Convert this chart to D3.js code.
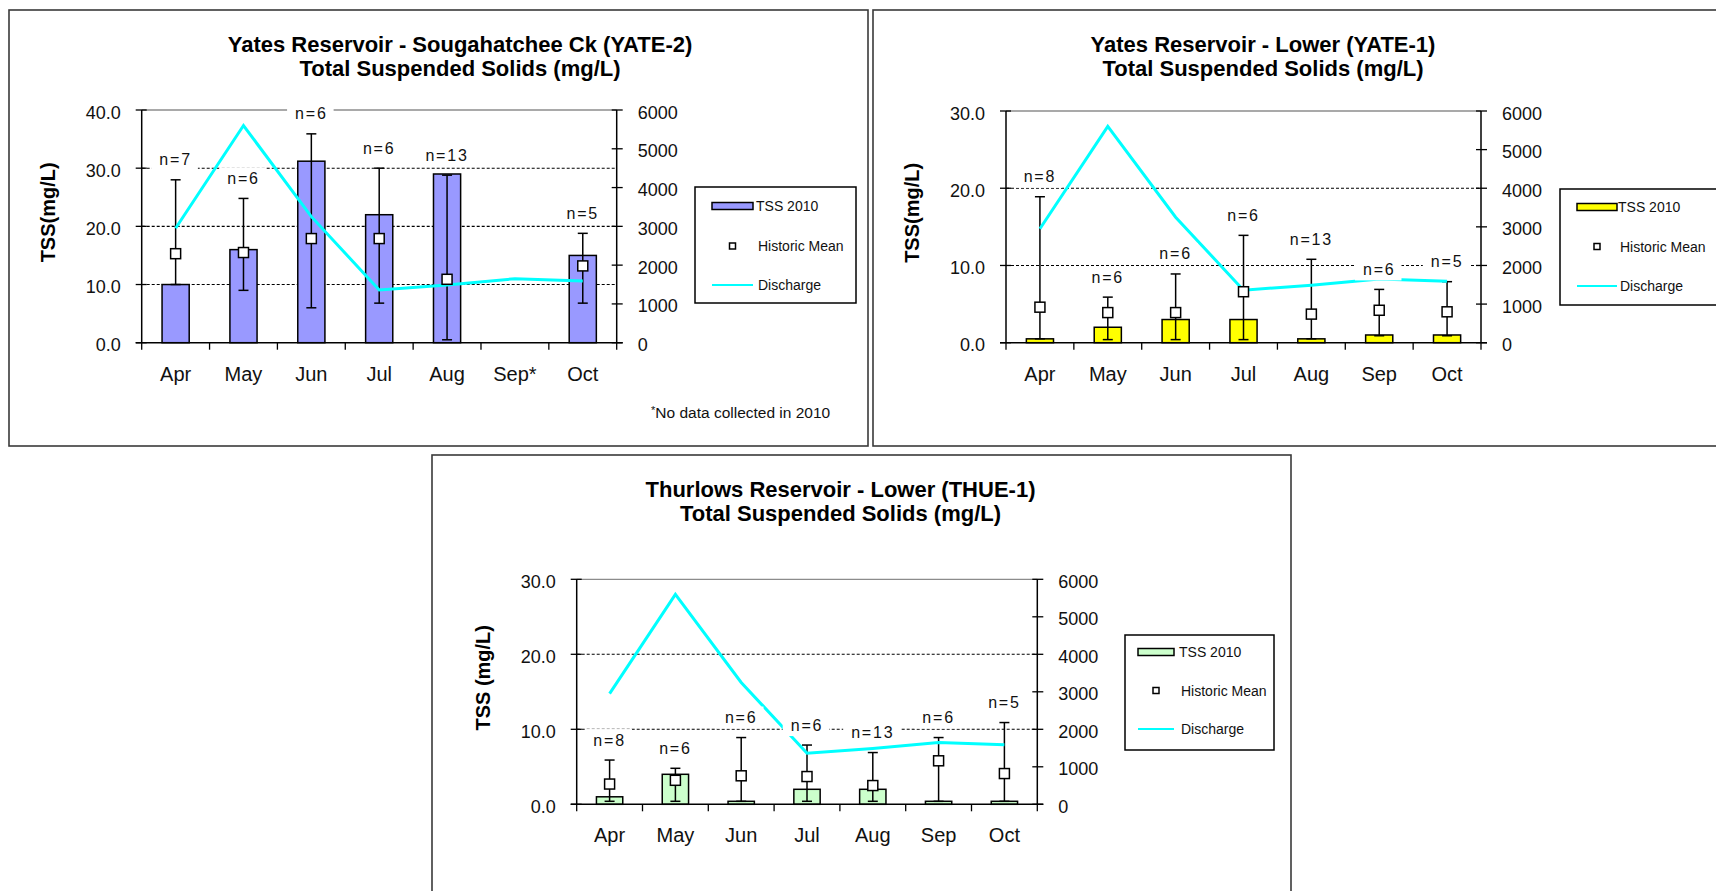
<!DOCTYPE html>
<html>
<head>
<meta charset="utf-8">
<script src="https://cdn.jsdelivr.net/npm/d3@7"></script>
<style>
  html, body { margin: 0; padding: 0; background: #ffffff; }
  svg { display: block; font-family: "Liberation Sans", Arial, sans-serif; }
</style>
</head>
<body>
<svg id="chart" width="1716" height="891"></svg>
<script>
// ---------- DATA ----------
const monthsYate2 = ["Apr", "May", "Jun", "Jul", "Aug", "Sep*", "Oct"];
const months = ["Apr", "May", "Jun", "Jul", "Aug", "Sep", "Oct"];

const discharge = [2950, 5600, 3250, 1360, 1490, 1650, 1590];
const dischargeTicks = [0, 1000, 2000, 3000, 4000, 5000, 6000];

// Yates Reservoir - Sougahatchee Ck (YATE-2)
const yate2Tss = [10.0, 16.0, 31.2, 22.0, 29.0, null, 15.0];
const yate2Mean = [15.3, 15.5, 17.9, 17.9, 10.9, null, 13.2];
const yate2Low = [10.0, 9.0, 6.0, 6.8, 0.5, null, 6.8];
const yate2High = [28.0, 24.8, 35.9, 30.0, 28.8, null, 18.8];
const yate2N = [7, 6, 6, 6, 13, null, 5];
const yate2Ticks = [0, 10, 20, 30, 40];

// Yates Reservoir - Lower (YATE-1)
const yate1Tss = [0.5, 2.0, 3.0, 3.0, 0.5, 1.0, 1.0];
const yate1Mean = [4.6, 3.9, 3.9, 6.6, 3.7, 4.2, 4.0];
const yate1Low = [0.5, 0.4, 0.4, 0.4, 0.5, 0.9, 0.9];
const yate1High = [18.9, 5.9, 8.9, 13.9, 10.8, 6.9, 7.9];
const yate1N = [8, 6, 6, 6, 13, 6, 5];
const yate1Ticks = [0, 10, 20, 30];

// Thurlows Reservoir - Lower (THUE-1)
const thue1Tss = [1.0, 4.0, 0.4, 2.0, 2.0, 0.4, 0.4];
const thue1Mean = [2.7, 3.2, 3.8, 3.7, 2.5, 5.8, 4.1];
const thue1Low = [0.4, 0.4, 0.4, 0.4, 0.4, 0.4, 0.4];
const thue1High = [5.9, 4.8, 8.9, 7.9, 6.9, 8.9, 10.9];
const thue1N = [8, 6, 6, 6, 13, 6, 5];
const thue1Ticks = [0, 10, 20, 30];

const legendLabels = ["TSS 2010", "Historic Mean", "Discharge"];

// ---------- DRAW ----------
const svg = d3.select("#chart");

function drawChart(cfg) {
  const g = svg.append("g");
  const P = cfg.plot;

  // outer frame
  g.append("rect")
    .attr("x", cfg.frame[0]).attr("y", cfg.frame[1])
    .attr("width", cfg.frame[2] - cfg.frame[0]).attr("height", cfg.frame[3] - cfg.frame[1])
    .attr("fill", "#fff").attr("stroke", "#3a3a3a").attr("stroke-width", 1.6);

  const x = d3.scaleBand().domain(cfg.cats).range([P.l, P.r]).padding(0);
  const y = d3.scaleLinear().domain([0, d3.max(cfg.yTicks)]).range([P.b, P.t]);
  const y2 = d3.scaleLinear().domain([0, d3.max(dischargeTicks)]).range([P.b, P.t]);
  const bw = x.bandwidth();
  const cx = c => x(c) + bw / 2;

  // gridlines (dashed) for interior ticks
  g.selectAll(".grid").data(cfg.yTicks.filter(t => t > 0 && t < d3.max(cfg.yTicks)))
    .enter().append("line")
    .attr("x1", P.l).attr("x2", P.r)
    .attr("y1", d => y(d)).attr("y2", d => y(d))
    .attr("stroke", "#000").attr("stroke-width", 1.1).attr("stroke-dasharray", "3,2");

  // top border of plot area
  g.append("line").attr("x1", P.l).attr("x2", P.r)
    .attr("y1", y(d3.max(cfg.yTicks))).attr("y2", y(d3.max(cfg.yTicks)))
    .attr("stroke", "#8c8c8c").attr("stroke-width", 1.3);

  const rows = cfg.cats.map((c, i) => ({
    c, tss: cfg.tss[i], mean: cfg.mean[i], low: cfg.low[i], high: cfg.high[i], n: cfg.n[i], q: discharge[i]
  }));

  // bars
  g.selectAll(".bar").data(rows.filter(d => d.tss != null)).enter().append("rect")
    .attr("x", d => cx(d.c) - bw * 0.2).attr("width", bw * 0.4)
    .attr("y", d => y(d.tss)).attr("height", d => y(0) - y(d.tss))
    .attr("fill", cfg.fill).attr("stroke", "#000").attr("stroke-width", 1.5);

  // error bars
  const eb = g.selectAll(".eb").data(rows.filter(d => d.high != null)).enter().append("g");
  eb.append("line").attr("x1", d => cx(d.c)).attr("x2", d => cx(d.c))
    .attr("y1", d => y(d.low)).attr("y2", d => y(d.high))
    .attr("stroke", "#000").attr("stroke-width", 1.5);
  eb.append("line").attr("x1", d => cx(d.c) - 5).attr("x2", d => cx(d.c) + 5)
    .attr("y1", d => y(d.high)).attr("y2", d => y(d.high))
    .attr("stroke", "#000").attr("stroke-width", 1.5);
  eb.append("line").attr("x1", d => cx(d.c) - 5).attr("x2", d => cx(d.c) + 5)
    .attr("y1", d => y(d.low)).attr("y2", d => y(d.low))
    .attr("stroke", "#000").attr("stroke-width", 1.5);

  // discharge line
  const line = d3.line().x(d => cx(d.c)).y(d => y2(d.q));
  g.append("path").datum(rows).attr("d", line)
    .attr("fill", "none").attr("stroke", "#00ffff").attr("stroke-width", 3)
    .attr("stroke-linejoin", "miter");

  // historic mean markers
  g.selectAll(".mk").data(rows.filter(d => d.mean != null)).enter().append("rect")
    .attr("x", d => cx(d.c) - 5).attr("y", d => y(d.mean) - 5)
    .attr("width", 10).attr("height", 10)
    .attr("fill", "#fff").attr("stroke", "#000").attr("stroke-width", 1.5);

  function ln(x1, y1, x2, y2, w) {
    g.append("line").attr("x1", x1).attr("y1", y1).attr("x2", x2).attr("y2", y2)
      .attr("stroke", "#000").attr("stroke-width", w || 1.5);
  }
  ln(P.l, P.t, P.l, P.b);
  ln(P.r, P.t, P.r, P.b);
  ln(P.l - 6, P.b, P.r + 6, P.b);

  // left ticks & labels
  cfg.yTicks.forEach(t => {
    ln(P.l - 6, y(t), P.l + 5, y(t), 1.3);
    g.append("text").attr("x", P.l - 21).attr("y", y(t) + 8.5)
      .attr("text-anchor", "end").attr("font-size", 18).attr("fill", "#111")
      .text(d3.format(".1f")(t));
  });
  // right ticks & labels
  dischargeTicks.forEach(t => {
    ln(P.r - 5, y2(t), P.r + 6, y2(t), 1.3);
    g.append("text").attr("x", P.r + 21).attr("y", y2(t) + 8.5)
      .attr("text-anchor", "start").attr("font-size", 18).attr("fill", "#111")
      .text(String(t));
  });
  // category boundary ticks
  const bounds = cfg.cats.map(c => x(c)).concat([P.r]);
  bounds.forEach(b => ln(b, P.b, b, P.b + 7, 1.3));
  // category labels
  g.selectAll(".xl").data(cfg.cats).enter().append("text")
    .attr("x", d => cx(d)).attr("y", P.b + 38)
    .attr("text-anchor", "middle").attr("font-size", 20).attr("fill", "#111")
    .text(d => d);

  // n labels with white background
  rows.filter(d => d.n != null).forEach(d => {
    const ty = y(d.high) - 20;
    const t = g.append("text").attr("x", cx(d.c)).attr("y", ty + 5.5)
      .attr("text-anchor", "middle").attr("font-size", 16).attr("letter-spacing", 1.8)
      .attr("fill", "#111").text("n=" + d.n);
    const bb = t.node().getBBox();
    g.insert("rect", () => t.node())
      .attr("x", bb.x - 8).attr("y", ty - 11).attr("width", bb.width + 14).attr("height", 22)
      .attr("fill", "#fff");
  });

  // y axis title
  g.append("text")
    .attr("transform", `translate(${P.l - 94},${(P.t + P.b) / 2 - 14}) rotate(-90)`)
    .attr("text-anchor", "middle").attr("dominant-baseline", "central")
    .attr("font-size", 20).attr("font-weight", "bold").attr("fill", "#000")
    .text(cfg.yTitle);

  // title
  cfg.title.forEach((s, i) => {
    g.append("text").attr("x", cfg.titleX).attr("y", cfg.titleY[i])
      .attr("text-anchor", "middle").attr("font-size", 22).attr("font-weight", "bold")
      .attr("fill", "#000").text(s);
  });

  // legend
  const L = cfg.legend;
  g.append("rect").attr("x", L.x).attr("y", L.y).attr("width", L.w).attr("height", L.h)
    .attr("fill", "#fff").attr("stroke", "#000").attr("stroke-width", 1.5);
  const ey = L.rows.map(o => L.y + o);
  g.append("rect").attr("x", L.x + L.sx).attr("y", ey[0] - 3.5).attr("width", L.sw).attr("height", 7)
    .attr("fill", cfg.fill).attr("stroke", "#000").attr("stroke-width", 1.5);
  g.append("rect").attr("x", L.x + L.sx + L.sw / 2 - 3).attr("y", ey[1] - 3).attr("width", 6).attr("height", 6)
    .attr("fill", "#fff").attr("stroke", "#000").attr("stroke-width", 1.5);
  g.append("line").attr("x1", L.x + L.sx).attr("x2", L.x + L.sx + L.sw)
    .attr("y1", ey[2]).attr("y2", ey[2]).attr("stroke", "#00ffff").attr("stroke-width", 2);
  legendLabels.forEach((s, i) => {
    g.append("text").attr("x", L.x + L.tx + (i === 0 ? 0 : 2)).attr("y", ey[i] + 5)
      .attr("font-size", 14).attr("fill", "#111").text(s);
  });

  if (cfg.footnote) {
    const f = g.append("text").attr("x", cfg.footnote.x).attr("y", cfg.footnote.y)
      .attr("font-size", 15.5).attr("fill", "#111");
    f.append("tspan").attr("font-size", 11).attr("dy", -4).text("*");
    f.append("tspan").attr("dy", 4).text(cfg.footnote.text);
  }
}

drawChart({
  frame: [9, 10, 868, 446],
  plot: { l: 141.7, r: 616.7, t: 110, b: 342.7 },
  cats: monthsYate2, tss: yate2Tss, mean: yate2Mean, low: yate2Low, high: yate2High, n: yate2N,
  yTicks: yate2Ticks, fill: "#9999ff",
  title: ["Yates Reservoir - Sougahatchee Ck (YATE-2)", "Total Suspended Solids (mg/L)"],
  titleX: 460, titleY: [52, 75.5],
  yTitle: "TSS(mg/L)",
  legend: { x: 695, y: 187, w: 161, h: 116, sx: 17, sw: 41, tx: 61, rows: [19, 59, 98] },
  footnote: { x: 651, y: 418, text: "No data collected in 2010" }
});

drawChart({
  frame: [873, 10, 1730, 446],
  plot: { l: 1006, r: 1481, t: 111, b: 342.7 },
  cats: months, tss: yate1Tss, mean: yate1Mean, low: yate1Low, high: yate1High, n: yate1N,
  yTicks: yate1Ticks, fill: "#ffff00",
  title: ["Yates Reservoir - Lower (YATE-1)", "Total Suspended Solids (mg/L)"],
  titleX: 1263, titleY: [52, 75.5],
  yTitle: "TSS(mg/L)",
  legend: { x: 1560, y: 189, w: 162, h: 116, sx: 17, sw: 40, tx: 58, rows: [18, 57.5, 97] }
});

drawChart({
  frame: [432, 455, 1291, 900],
  plot: { l: 576.7, r: 1037.3, t: 579.3, b: 804.3 },
  cats: months, tss: thue1Tss, mean: thue1Mean, low: thue1Low, high: thue1High, n: thue1N,
  yTicks: thue1Ticks, fill: "#ccffcc",
  title: ["Thurlows Reservoir - Lower (THUE-1)", "Total Suspended Solids (mg/L)"],
  titleX: 840.5, titleY: [497, 520.5],
  yTitle: "TSS (mg/L)",
  legend: { x: 1125, y: 635, w: 149, h: 115, sx: 13, sw: 36, tx: 54, rows: [17, 55.5, 94] }
});
</script>
</body>
</html>
